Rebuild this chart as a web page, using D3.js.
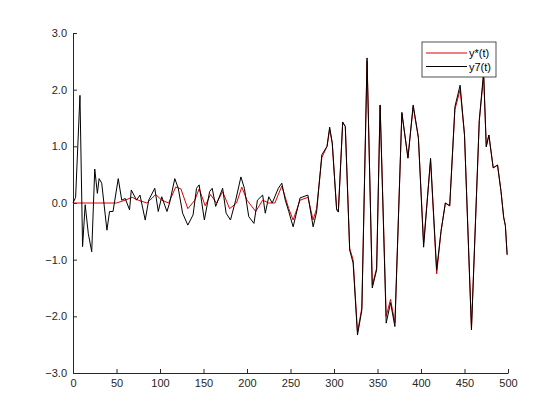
<!DOCTYPE html>
<html><head><meta charset="utf-8">
<script src="https://cdn.jsdelivr.net/npm/d3@7"></script>
<style>body{margin:0;background:#fff}svg{font-family:"Liberation Sans",Arial,sans-serif}</style>
</head><body><svg id="c" width="560" height="420"></svg>
<script>
const xTicks=[0,50,100,150,200,250,300,350,400,450,500];
const yTicks=[-3,-2,-1,0,1,2,3];
const seriesNames=["y*(t)","y7(t)"];
const blackT=[0,3,8,11,14,17.6,21.5,25,28,30,33,39,42,46,52,56,60,65,67,73,77,83,87,94,98,102,108,111,117,121,126,132,138,142,145,151,157,160,164,172,176,181,187,193,197,202,208,212,218,221,225,229,236,240,244,248,253,261,270,276,280,286,292,295,298,303,305,310,313,318,322,327,332,338,344,349,353,360,365,370,378,385,391,397,403,411,418,423,428,433,439,445,450,458,467,472,475,478,483,488,492,495,497,499];
const blackV=[0,0.1,1.9,-0.77,-0.03,-0.54,-0.86,0.6,0.17,0.43,0.35,-0.48,-0.15,-0.15,0.43,0.05,0.08,-0.12,0.23,0.05,0.14,-0.3,0.05,0.26,-0.15,0.11,-0.15,0,0.43,0.26,-0.18,-0.39,-0.21,0.26,0.32,-0.3,0.2,0.26,-0.06,0.26,-0.18,-0.3,0.05,0.46,0.26,-0.24,-0.36,0.05,0.14,-0.18,0.11,0,0.26,0.35,0.05,-0.15,-0.42,0.09,0.14,-0.42,-0.16,0.85,1.0,1.34,1.06,-0.12,-0.16,1.43,1.35,-0.83,-1.06,-2.33,-1.89,2.56,-1.5,-1.18,1.73,-2.12,-1.76,-2.18,1.6,0.79,1.73,1.16,-0.78,0.79,-1.18,-0.5,0,-0.05,1.7,2.08,1.2,-2.24,1.46,2.31,0.99,1.2,0.62,0.67,0.2,-0.25,-0.4,-0.92];
const redT=[0,50,60,68,75,85,95,102,110,118,124,132,140,145,152,158,165,172,180,188,194,200,210,218,225,232,240,248,253,261,270,276,280,286,292,295,298,303,305,310,313,318,322,327,332,338,344,349,353,360,365,370,378,385,391,397,403,411,418,423,428,433,439,445,450,458,467,472,475,478,483,488,492,495,497,499];
const redV=[0,0,0.05,0.1,0.05,0,0.15,0.05,0,0.28,0.25,-0.1,0.05,0.25,-0.05,0.15,0,0.2,-0.1,0,0.28,0.05,-0.15,0.05,0,0,0.3,-0.1,-0.3,0.05,0.1,-0.3,-0.1,0.8,1.0,1.3,1.05,-0.1,-0.15,1.42,1.35,-0.8,-1.0,-2.28,-1.85,2.5,-1.45,-1.15,1.72,-2.0,-1.7,-2.12,1.58,0.8,1.7,1.15,-0.7,0.75,-1.25,-0.5,0,-0.05,1.65,2.0,1.2,-2.2,1.45,2.25,1.0,1.2,0.62,0.67,0.2,-0.25,-0.4,-0.9];
const svg=d3.select("#c");
const x=d3.scaleLinear().domain([0,500]).range([73,508]);
const y=d3.scaleLinear().domain([-3,3]).range([373,33]);
const line=d3.line().x(d=>x(d[0])).y(d=>y(d[1]));
const gx=svg.append("g").attr("transform","translate(0,373)").call(d3.axisBottom(x).tickValues(xTicks).tickSizeInner(-4).tickSizeOuter(0).tickPadding(6));
const gy=svg.append("g").attr("transform","translate(73,0)").call(d3.axisLeft(y).tickValues(yTicks).tickSizeInner(-4).tickSizeOuter(0).tickPadding(6));
[gx,gy].forEach(g=>{g.selectAll("text").attr("font-size",11).attr("fill","#262626").attr("font-family","Liberation Sans, Arial");g.selectAll("path,line").attr("stroke","#262626");});
svg.append("path").datum(redT.map((t,i)=>[t,redV[i]])).attr("d",line).attr("fill","none").attr("stroke","#e00000").attr("stroke-width",1);
svg.append("path").datum(blackT.map((t,i)=>[t,blackV[i]])).attr("d",line).attr("fill","none").attr("stroke","#000").attr("stroke-width",1);
const lg=svg.append("g").attr("transform","translate(422,42)");
lg.append("rect").attr("width",74).attr("height",35).attr("fill","#fff").attr("stroke","#262626").attr("stroke-width",0.8);
const cols=["#e00000","#000"];
seriesNames.forEach((n,i)=>{
  lg.append("line").attr("x1",4).attr("x2",45).attr("y1",11+i*13.5).attr("y2",11+i*13.5).attr("stroke",cols[i]);
  lg.append("text").attr("x",47).attr("y",15+i*13.5).attr("font-size",11).attr("fill","#000").text(n);
});
</script></body></html>
